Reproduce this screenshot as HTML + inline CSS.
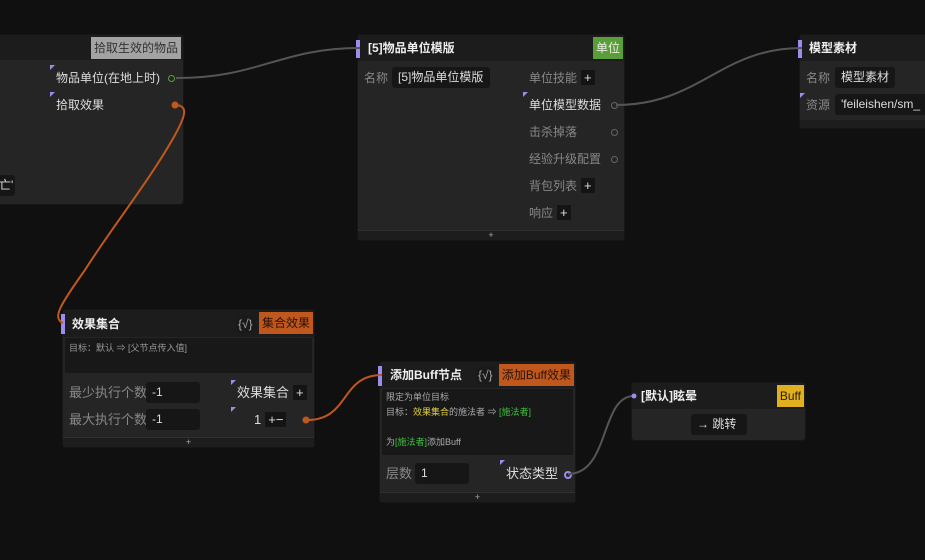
<!DOCTYPE html>
<html><head><meta charset="utf-8"><style>
body{margin:0;width:925px;height:560px;background:#101010;position:relative;overflow:hidden;font-family:"Liberation Sans","Noto Sans CJK SC",sans-serif;font-size:12px;color:#ccc}
.n{position:absolute;background:#252525;border-radius:3px;box-shadow:0 0 0 1px #161616}
.h{position:absolute;left:0;right:0;top:0;background:#1c1c1c;color:#eee;font-weight:bold;font-size:12px}
.t{position:absolute;line-height:16px;white-space:nowrap}
.tag{position:absolute;top:2px;padding:0 3px;height:22px;line-height:22px;font-size:12px}
.in{position:absolute;background:#161616;border-radius:3px;height:21px;line-height:21px;padding-left:6px;color:#ddd;white-space:nowrap;overflow:hidden}
.pl{display:inline-block;background:#141414;color:#ddd;padding:0 3px;line-height:15px;margin-left:4px;font-size:13px}
.ft{position:absolute;left:0;right:0;bottom:0;height:9px;background:#1d1d1d;border-top:1px solid #303030;color:#aaa;font-size:9px;text-align:center;line-height:9px}
.tri{position:absolute;width:0;height:0;border-top:5px solid #9d8cf0;border-right:5px solid transparent}
.dim{color:#888}
.port{position:absolute;width:5px;height:5px;border:1px solid #666;border-radius:50%}
</style></head><body>

<!-- node 1 -->
<div class="n" style="left:-5px;top:35px;width:188px;height:169px">
<div class="h" style="height:25px"></div>
<div class="tag" style="right:2px;background:#a3a3a3;color:#333">拾取生效的物品</div>
<div class="tri" style="left:55px;top:30px"></div>
<div class="t" style="left:61px;top:35px;color:#ddd">物品单位(在地上时)</div>
<div class="port" style="left:173px;top:40px;border-color:#5a9e3a"></div>
<div class="tri" style="left:55px;top:57px"></div>
<div class="t" style="left:61px;top:62px;color:#ddd">拾取效果</div>
<div class="in" style="left:0;top:140px;width:16px;padding-left:4px">亡'</div>
</div>

<!-- node 2 -->
<div class="n" style="left:358px;top:35px;width:266px;height:205px">
<div class="h" style="height:26px"><span class="t" style="left:10px;top:5px">[5]物品单位模版</span></div>
<div style="position:absolute;left:-2px;top:5px;width:4px;height:18px;background:#9d8cf0"></div>
<div class="tag" style="right:1px;background:#5a9e3a;color:#e8f0e0">单位</div>
<div class="t dim" style="left:6px;top:35px">名称</div>
<div class="in" style="left:34px;top:32px;width:92px">[5]物品单位模版</div>
<div class="t dim" style="left:171px;top:35px">单位技能<span class="pl">+</span></div>
<div class="tri" style="left:165px;top:57px"></div>
<div class="t" style="left:171px;top:62px;color:#ddd">单位模型数据</div>
<div class="port" style="left:253px;top:67px"></div>
<div class="t dim" style="left:171px;top:89px">击杀掉落</div>
<div class="port" style="left:253px;top:94px"></div>
<div class="t dim" style="left:171px;top:116px">经验升级配置</div>
<div class="port" style="left:253px;top:121px"></div>
<div class="t dim" style="left:171px;top:143px">背包列表<span class="pl">+</span></div>
<div class="t dim" style="left:171px;top:170px">响应<span class="pl">+</span></div>
<div class="ft">+</div>
</div>

<!-- node 3 -->
<div class="n" style="left:800px;top:35px;width:140px;height:93px">
<div class="h" style="height:26px"><span class="t" style="left:9px;top:5px">模型素材</span></div>
<div style="position:absolute;left:-2px;top:5px;width:4px;height:18px;background:#9d8cf0"></div>
<div class="t dim" style="left:6px;top:35px">名称</div>
<div class="in" style="left:35px;top:32px;width:54px">模型素材</div>
<div class="tri" style="left:0;top:58px"></div>
<div class="t dim" style="left:6px;top:62px">资源</div>
<div class="in" style="left:35px;top:59px;width:100px">'feileishen/sm_</div>
<div style="position:absolute;left:0;right:0;top:85px;height:8px;background:#1d1d1d"></div>
</div>

<!-- node 4 -->
<div class="n" style="left:63px;top:310px;width:251px;height:137px">
<div class="h" style="height:27px"><span class="t" style="left:9px;top:6px">效果集合</span></div>
<div style="position:absolute;left:-2px;top:4px;width:4px;height:20px;background:#9d8cf0"></div>
<div class="t" style="left:173px;top:5px;color:#aaa;background:#1a1a1a;padding:1px 2px">{√}</div>
<div class="tag" style="right:1px;background:#c0581e;color:#2a1208">集合效果</div>
<div style="position:absolute;left:2px;right:2px;top:28px;height:35px;background:#181818"></div>
<div class="t" style="left:6px;top:30px;font-size:9px;color:#999">目标：默认 ⇒ [父节点传入值]</div>
<div class="t dim" style="left:6px;top:75px;font-size:13px">最少执行个数</div>
<div class="in" style="left:83px;top:72px;width:48px">-1</div>
<div class="t dim" style="left:6px;top:102px;font-size:13px">最大执行个数</div>
<div class="in" style="left:83px;top:99px;width:48px">-1</div>
<div class="tri" style="left:168px;top:70px"></div>
<div class="t" style="left:174px;top:75px;color:#ddd;font-size:13px">效果集合<span class="pl">+</span></div>
<div class="tri" style="left:168px;top:97px"></div>
<div class="t" style="left:191px;top:102px;color:#ddd;font-size:13px">1<span class="pl">+−</span></div>
<div class="ft">+</div>
</div>

<!-- node 5 -->
<div class="n" style="left:380px;top:362px;width:195px;height:140px">
<div class="h" style="height:26px"><span class="t" style="left:10px;top:5px">添加Buff节点</span></div>
<div style="position:absolute;left:-2px;top:4px;width:4px;height:20px;background:#9d8cf0"></div>
<div class="t" style="left:96px;top:4px;color:#aaa;background:#1a1a1a;padding:1px 2px">{√}</div>
<div class="tag" style="right:1px;background:#c0581e;color:#2a1208">添加Buff效果</div>
<div style="position:absolute;left:2px;right:2px;top:27px;height:66px;background:#181818"></div>
<div class="t" style="left:6px;top:28px;font-size:9px;line-height:15px;color:#aaa">限定为单位目标<br>目标：<span style="color:#e0d040">效果集合</span>的施法者 ⇒ <span style="color:#40c040">[施法者]</span><br><br>为<span style="color:#40c040">[施法者]</span>添加Buff</div>
<div class="t dim" style="left:6px;top:104px;font-size:13px">层数</div>
<div class="in" style="left:35px;top:101px;width:48px">1</div>
<div class="tri" style="left:120px;top:98px"></div>
<div class="t" style="left:126px;top:104px;color:#ddd;font-size:13px">状态类型</div>
<div class="port" style="left:184px;top:109px;border-color:#9d8cf0;border-width:2px;width:4px;height:4px"></div>
<div class="ft">+</div>
</div>

<!-- node 6 -->
<div class="n" style="left:632px;top:383px;width:173px;height:57px">
<div class="h" style="height:26px"><span class="t" style="left:9px;top:5px">[默认]眩晕</span></div>
<div class="tag" style="right:1px;background:#e0b020;color:#2a2000">Buff</div>
<div class="in" style="left:59px;top:31px;width:50px;padding-left:6px;color:#ddd">→ 跳转</div>
</div>

<svg style="position:absolute;left:0;top:0;z-index:5" width="925" height="560">
<g fill="none" stroke-width="2">
<path d="M176,78 C260,78 280,48 360,48" stroke="#555"/>
<path d="M616,105 C700,105 720,48 802,48" stroke="#555"/>
<path d="M176,105 C188,106 186,115 175,135 C150,180 110,230 85,270 C60,305 52,318 63,323" stroke="#c0581e"/>
<path d="M307,420 C350,420 340,375 382,375" stroke="#c0581e"/>
<path d="M568,474 C610,474 600,396 634,396" stroke="#555"/>
</g>
<circle cx="175" cy="105" r="3.5" fill="#c0581e"/>
<circle cx="306" cy="420" r="3.5" fill="#c0581e"/>
<circle cx="634" cy="396" r="2.5" fill="#9d8cf0"/>
</svg>
</body></html>
